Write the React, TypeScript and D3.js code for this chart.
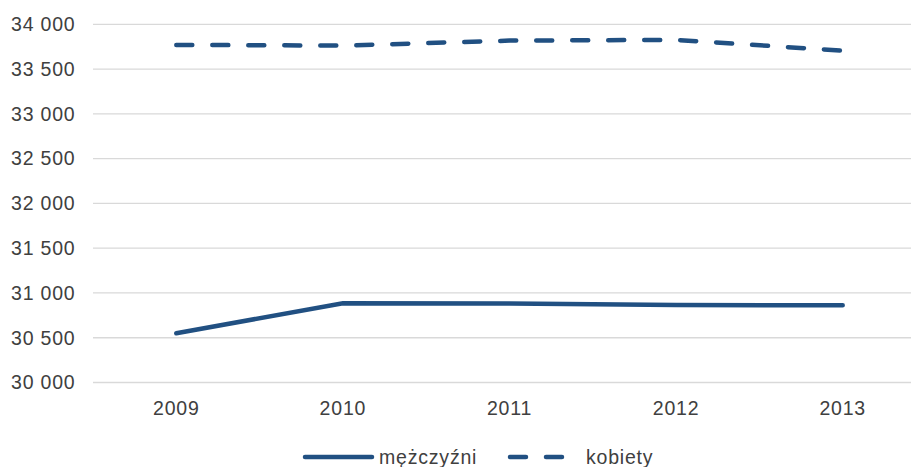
import * as d3 from "d3";

const years = ["2009", "2010", "2011", "2012", "2013"];
const men = [30550, 30885, 30882, 30866, 30862];
const women = [33770, 33762, 33818, 33826, 33705];
const yTicks = [30000, 30500, 31000, 31500, 32000, 32500, 33000, 33500, 34000];

const W = 911;
const H = 467;
const color = "#215082";
const font = "'Liberation Sans', Arial, sans-serif";
const fs = 19.5;
const ls = 0.8;

export default function App() {
  const x = d3.scaleBand().domain(years).range([93, 926]);
  const y = d3.scaleLinear().domain([30000, 34000]).range([382.5, 24.3]);
  const fmt = (v: number) => d3.format(",")(v).replace(",", " ");

  const line = d3
    .line<number>()
    .x((_, i) => x(years[i])! + x.bandwidth() / 2)
    .y(d => y(d));

  return (
    <svg
      width={W}
      height={H}
      style={{ position: "absolute", left: 0, top: 0 }}
      fontFamily={font}
    >
      <rect width={W} height={H} fill="#fff" />
      {yTicks.map(t => (
        <g key={t}>
          <line x1={93} x2={W} y1={y(t)} y2={y(t)} stroke="#d9d9d9" strokeWidth={1.3} />
          <text x={75.5} y={y(t)} dy="0.35em" textAnchor="end" fontSize={fs} letterSpacing={ls} fill="#404040">
            {fmt(t)}
          </text>
        </g>
      ))}
      {years.map(yr => (
        <text
          key={yr}
          x={x(yr)! + x.bandwidth() / 2}
          y={408}
          dy="0.35em"
          textAnchor="middle"
          fontSize={fs}
          letterSpacing={ls}
          fill="#404040"
        >
          {yr}
        </text>
      ))}
      <path d={line(men)!} fill="none" stroke={color} strokeWidth={4.5} strokeLinecap="round" />
      <path
        d={line(women)!}
        fill="none"
        stroke={color}
        strokeWidth={4.5}
        strokeLinecap="round"
        strokeDasharray="16 20"
      />
      <g>
        <line x1={305} x2={372} y1={457} y2={457} stroke={color} strokeWidth={4.5} strokeLinecap="round" />
        <text x={379} y={457} dy="0.35em" fontSize={fs} letterSpacing={ls} fill="#404040">
          mężczyźni
        </text>
        <line
          x1={510}
          x2={565}
          y1={457}
          y2={457}
          stroke={color}
          strokeWidth={4.5}
          strokeLinecap="round"
          strokeDasharray="16 20"
        />
        <text x={586} y={457} dy="0.35em" fontSize={fs} letterSpacing={ls} fill="#404040">
          kobiety
        </text>
      </g>
    </svg>
  );
}
